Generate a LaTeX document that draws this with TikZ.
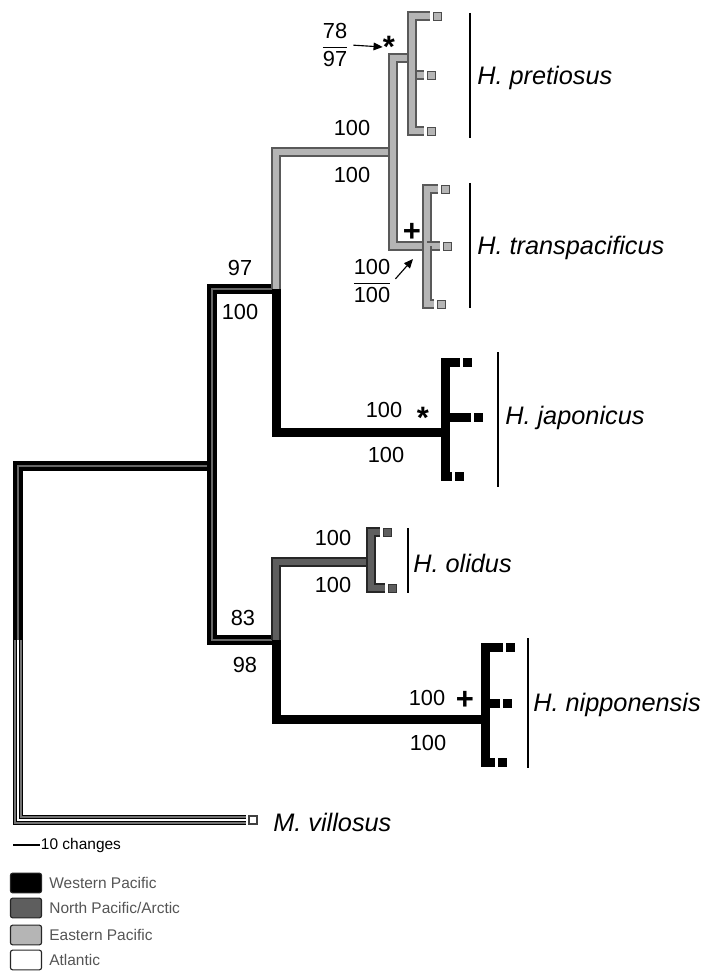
\documentclass[tikz,border=0pt]{standalone}
\usepackage{amsmath}
\usepackage{fontspec}
\setmainfont{Liberation Sans}
\usepackage{xcolor}
\usetikzlibrary{positioning,arrows.meta}
\definecolor{npac}{HTML}{5E5E5E}
\definecolor{epac}{HTML}{B5B5B5}
\definecolor{legtext}{HTML}{555555}

\begin{document}
\begin{tikzpicture}[x=0.025cm,y=-0.025cm,line join=miter,
  wp/.style={draw=black,line width=6.4pt},
  np/.style={draw=black!85,line width=0.9pt,double=npac,double distance=4.8pt},
  ep/.style={draw=black!65,line width=0.9pt,double=epac,double distance=4.8pt},
  mix/.style={draw=black,line width=2.95pt,double=black!60,double distance=0.9pt},
  atl/.style={draw=black,line width=1pt,double=black!55,double distance=5pt},
  atlc/.style={draw=black,line width=0.7pt,double=white,double distance=0.9pt},
  tipw/.style={rectangle,fill=black,inner sep=0pt,minimum size=6.4pt,outer sep=2pt},
  tipn/.style={tipw,fill=npac,draw=black!80,line width=0.6pt,minimum size=5.6pt},
  tipe/.style={tipw,fill=epac,draw=black!70,line width=0.6pt,minimum size=5.6pt},
  tipa/.style={tipw,fill=white,draw=black!75,line width=1.3pt,minimum size=5.4pt},
  bs/.style={font=\fontsize{15.5}{18}\selectfont,inner sep=1pt},
  mk/.style={font=\fontsize{22}{24}\selectfont\bfseries,inner sep=0pt},
  sp/.style={font=\fontsize{18}{22}\selectfont\itshape,anchor=west,inner sep=0pt},
  bar/.style={line width=1pt},
  arr/.style={-{Triangle[length=6.5pt,width=5.5pt]},line width=0.8pt,shorten <=2pt},
  leg/.style={rectangle,rounded corners=1.5pt,draw=black!85,line width=0.8pt,
    minimum width=22pt,minimum height=14pt,inner sep=0pt},
  legtxt/.style={font=\fontsize{11}{13}\selectfont,text=legtext,anchor=west,inner sep=0pt}]
  \useasboundingbox (0,0) rectangle (704,972);

  % internal nodes
  \coordinate (root) at (18,640);
  \coordinate (nA) at (212,466);
  \coordinate (nB) at (276,289); \coordinate (nC) at (276,640);
  \coordinate (nP) at (393,152); \coordinate (nJ) at (445,432);
  \coordinate (nPr) at (412,58); \coordinate (nTr) at (427,246);
  \coordinate (nO) at (371,562); \coordinate (nN) at (485,719);

  % tips
  \node[tipe] (pr1) at (437,16) {}; \node[tipe] (pr2) at (431,75) {}; \node[tipe] (pr3) at (431,131) {};
  \node[tipe] (tr1) at (445,189) {}; \node[tipe] (tr2) at (447,246) {}; \node[tipe] (tr3) at (441,304) {};
  \node[tipw] (ja1) at (467,362) {}; \node[tipw] (ja2) at (478,417) {}; \node[tipw] (ja3) at (459,476) {};
  \node[tipn] (ol1) at (387,532) {}; \node[tipn] (ol2) at (392,588) {};
  \node[tipw] (ni1) at (510,647) {}; \node[tipw] (ni2) at (507,703) {}; \node[tipw] (ni3) at (502,762) {};
  \node[tipa] (mv) at (253,820) {};

  % branches
  \draw[mix] (root) |- (nA);
  \draw[atl] (root) |- (mv); \draw[atlc] (root) |- (mv);
  \draw[mix] (nA) |- (nB); \draw[mix] (nA) |- (nC);
  \draw[ep] (nB) |- (nP); \draw[wp] (nB) |- (nJ);
  \draw[ep] (nP) |- (nPr); \draw[ep] (nP) |- (nTr);
  \draw[ep] (nPr) |- (pr1); \draw[ep] (nPr) |- (pr2); \draw[ep] (nPr) |- (pr3);
  \draw[ep] (nTr) |- (tr1); \draw[ep] (nTr) |- (tr2); \draw[ep] (nTr) |- (tr3);
  \draw[wp] (nJ) |- (ja1); \draw[wp] (nJ) |- (ja2); \draw[wp] (nJ) |- (ja3);
  \draw[np] (nC) |- (nO); \draw[wp] (nC) |- (nN);
  \draw[np] (nO) |- (ol1); \draw[np] (nO) |- (ol2);
  \draw[wp] (nN) |- (ni1); \draw[wp] (nN) |- (ni2); \draw[wp] (nN) |- (ni3);

  % support values
  \node[bs] (fr1) at (335,45) {$\dfrac{\text{78}}{\text{97}}$};
  \node[mk] (as1) at (389,47) {*};
  \draw[arr] (fr1.east) -- (as1.west);
  \node[bs] (bP1) at (352,128) {100}; \node[bs] (bP2) at (352,175) {100};
  \node[bs] (bB1) at (240,268) {97}; \node[bs] (bB2) at (240,312) {100};
  \node[mk] (pl1) at (412,232) {+};
  \node[bs] (fr2) at (372,281) {$\dfrac{\text{100}}{\text{100}}$};
  \coordinate (tp2) at (413,259);
  \draw[arr] (fr2.east) -- (tp2);
  \node[bs] (bJ1) at (384,410) {100}; \node[mk] (as2) at (423,418) {*}; \node[bs] (bJ2) at (386,455) {100};
  \node[bs] (bO1) at (333,538) {100}; \node[bs] (bO2) at (333,585) {100};
  \node[bs] (bC1) at (243,618) {83}; \node[bs] (bC2) at (245,665) {98};
  \node[bs] (bN1) at (427,698) {100}; \node[mk] (pl2) at (465,700) {+}; \node[bs] (bN2) at (428,743) {100};

  % species
  \coordinate (pt) at (470,13); \coordinate (pb) at (470,138);
  \draw[bar] (pt) -- (pb); \node[sp] (sPr) at (477,78) {H. pretiosus};
  \coordinate (tt) at (470,183); \coordinate (tb) at (470,308);
  \draw[bar] (tt) -- (tb); \node[sp] (sTr) at (477,248) {H. transpacificus};
  \coordinate (jt) at (498,352); \coordinate (jb) at (498,487);
  \draw[bar] (jt) -- (jb); \node[sp] (sJa) at (505,418) {H. japonicus};
  \coordinate (ot) at (408,528); \coordinate (ob) at (408,593);
  \draw[bar] (ot) -- (ob); \node[sp] (sOl) at (413,563) {H. olidus};
  \coordinate (nt) at (528,638); \coordinate (nb) at (528,768);
  \draw[bar] (nt) -- (nb); \node[sp] (sNi) at (533,705) {H. nipponensis};
  \node[sp] (sMv) at (273,822) {M. villosus};

  % scale and legend
  \coordinate (sb) at (13,845);
  \node[anchor=west,inner sep=0.5pt,font=\fontsize{11}{13}\selectfont] (sbl) at (40,845) {10 changes};
  \draw[line width=1pt] (sb) -- (sbl.west);
  \node[leg,fill=black] (lwp) at (26,883) {}; \node[legtxt,right=5pt of lwp] (twp) {Western Pacific};
  \node[leg,fill=npac] (lnp) at (26,908) {}; \node[legtxt,right=5pt of lnp] (tnp) {North Pacific/Arctic};
  \node[leg,fill=epac] (lep) at (26,935) {}; \node[legtxt,right=5pt of lep] (tep) {Eastern Pacific};
  \node[leg,fill=white] (lat) at (26,960) {}; \node[legtxt,right=5pt of lat] (tat) {Atlantic};
\end{tikzpicture}
\end{document}
